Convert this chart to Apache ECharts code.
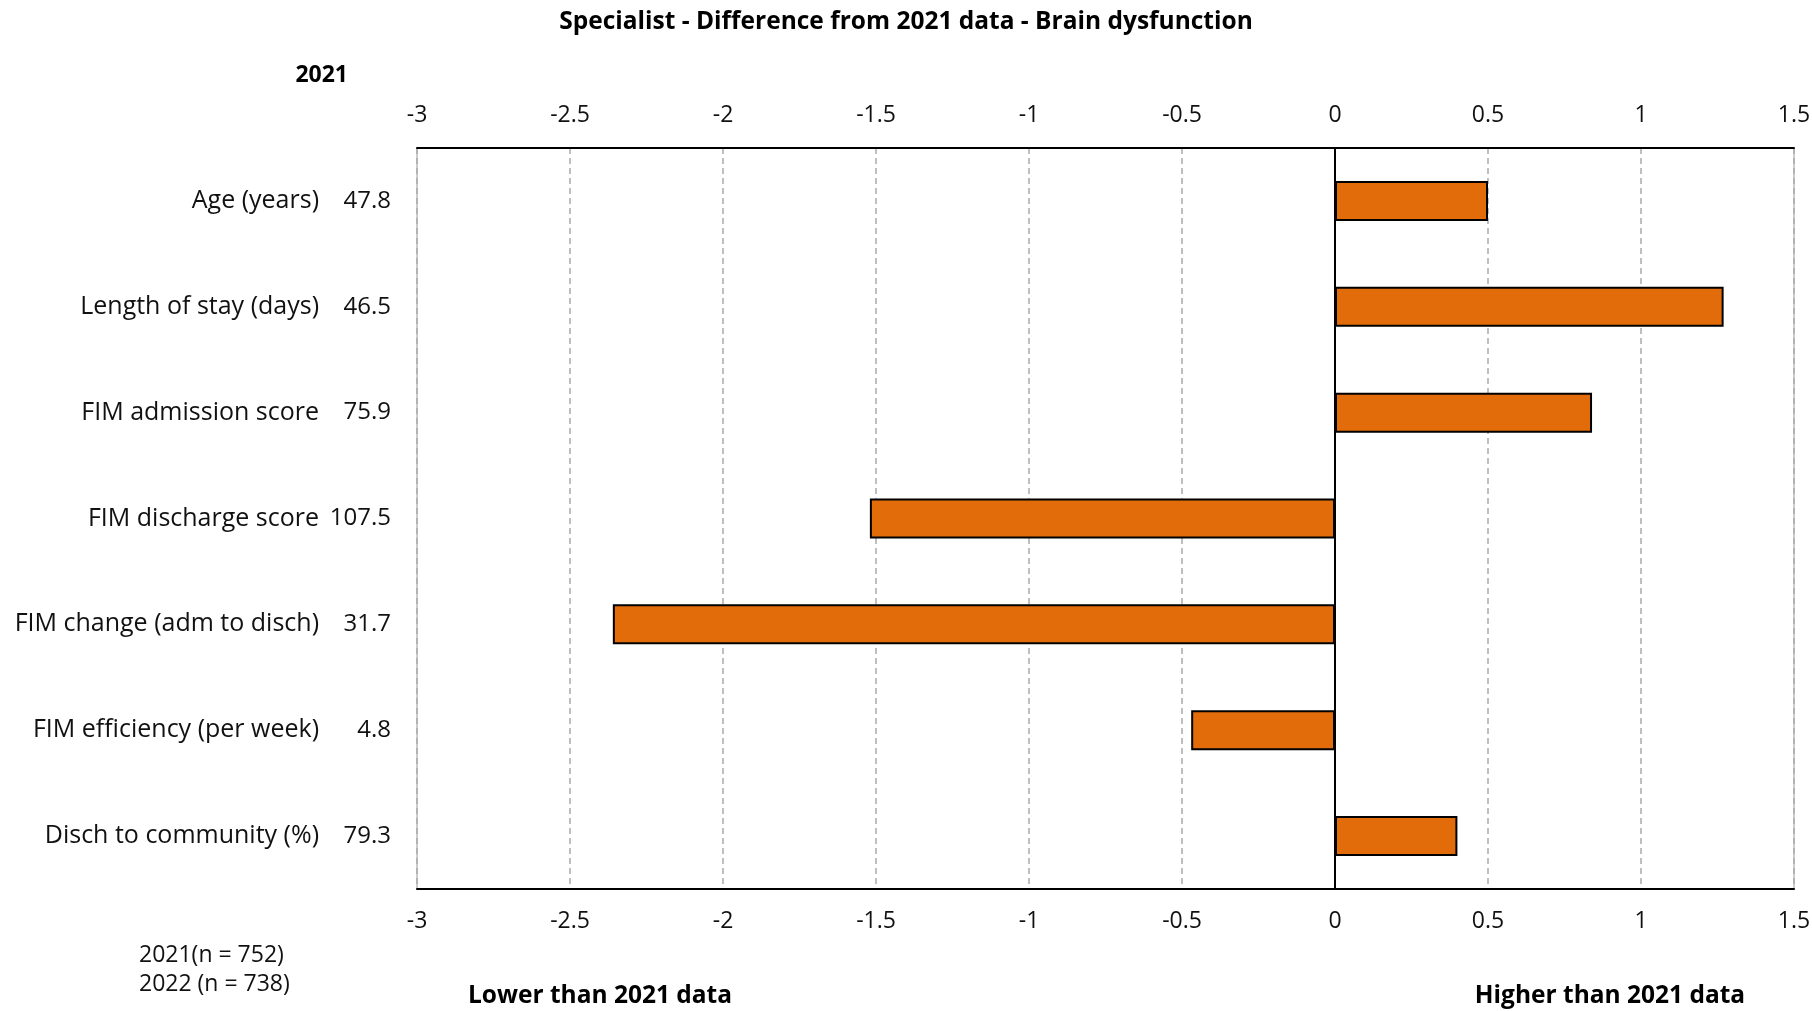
<!DOCTYPE html>
<html>
<head>
<meta charset="utf-8">
<script src="https://cdn.jsdelivr.net/npm/echarts@6/dist/echarts.min.js"></script>
<style>
  html, body { margin: 0; padding: 0; background: #fff; }
  #chart { width: 1812px; height: 1011px; }
</style>
</head>
<body>
<div id="chart"></div>
<script>
const categories = ['Age (years)', 'Length of stay (days)', 'FIM admission score', 'FIM discharge score', 'FIM change (adm to disch)', 'FIM efficiency (per week)', 'Disch to community (%)'];
const values2021 = ['47.8', '46.5', '75.9', '107.5', '31.7', '4.8', '79.3'];
const differences = [0.5, 1.27, 0.84, -1.52, -2.36, -0.47, 0.4];
const axisMin = -3;
const axisMax = 1.5;
const axisStep = 0.5;
const titleText = 'Specialist - Difference from 2021 data - Brain dysfunction';
const headerText = '2021';
const sampleNotes = ['2021(n = 752)', '2022 (n = 738)'];
const lowerText = 'Lower than 2021 data';
const higherText = 'Higher than 2021 data';

const FONT = '"Open Sans", Lato, sans-serif';
const chart = echarts.init(document.getElementById('chart'), null, { renderer: 'canvas' });

const xAxisBase = {
  type: 'value',
  min: axisMin,
  max: axisMax,
  interval: axisStep,
  axisTick: { show: false },
  axisLine: { show: true, onZero: false, lineStyle: { color: '#000', width: 2 } },
  axisLabel: { color: '#111', fontFamily: FONT, fontSize: 23, margin: 21,
    formatter: v => String(Math.round(v * 10) / 10) }
};

chart.setOption({
  animation: false,
  backgroundColor: '#fff',
  title: {
    text: titleText,
    left: 901, textAlign: 'center', top: 5,
    textStyle: { fontFamily: FONT, fontWeight: 'bold', fontSize: 24.5, color: '#000' }
  },
  grid: {
    left: 417, right: 18, top: 148, bottom: 122,
    containLabel: false, outerBoundsMode: 'none',
    show: true, borderColor: '#999', borderWidth: 1
  },
  xAxis: [
    Object.assign({}, xAxisBase, {
      position: 'bottom',
      splitLine: { show: true, lineStyle: { color: '#aaa', type: [6, 4], width: 1.5 } }
    }),
    Object.assign({}, xAxisBase, {
      position: 'top',
      splitLine: { show: false }
    })
  ],
  yAxis: {
    type: 'category',
    inverse: true,
    data: categories,
    axisLine: { show: false },
    axisTick: { show: false },
    splitLine: { show: false },
    axisLabel: {
      margin: 26,
      color: '#111',
      fontFamily: FONT,
      fontSize: 25,
      formatter: (v, i) => '{n|' + v + '}{v|' + values2021[i] + '}',
      rich: {
        n: { fontFamily: FONT, fontSize: 25, color: '#111' },
        v: { fontFamily: FONT, fontSize: 24, color: '#111', width: 72, align: 'right' }
      }
    }
  },
  series: [{
    type: 'bar',
    xAxisIndex: 0,
    data: differences,
    barWidth: 40,
    itemStyle: { color: '#E36C0A', borderColor: '#000', borderWidth: 2 },
    markLine: {
      silent: true,
      symbol: 'none',
      label: { show: false },
      lineStyle: { color: '#000', width: 2, type: 'solid' },
      data: [{ xAxis: 0 }]
    }
  }],
  graphic: [
    { type: 'text', x: 348, y: 75,
      style: { text: headerText, font: 'bold 23px ' + FONT, fill: '#000', align: 'right', verticalAlign: 'middle' } },
    { type: 'text', x: 139, y: 955,
      style: { text: sampleNotes[0], font: '23px ' + FONT, fill: '#111', verticalAlign: 'middle' } },
    { type: 'text', x: 139, y: 984,
      style: { text: sampleNotes[1], font: '23px ' + FONT, fill: '#111', verticalAlign: 'middle' } },
    { type: 'text', x: 600, y: 996,
      style: { text: lowerText, font: 'bold 24.5px ' + FONT, fill: '#000', align: 'center', verticalAlign: 'middle' } },
    { type: 'text', x: 1610, y: 996,
      style: { text: higherText, font: 'bold 24.5px ' + FONT, fill: '#000', align: 'center', verticalAlign: 'middle' } }
  ]
});
</script>
</body>
</html>
